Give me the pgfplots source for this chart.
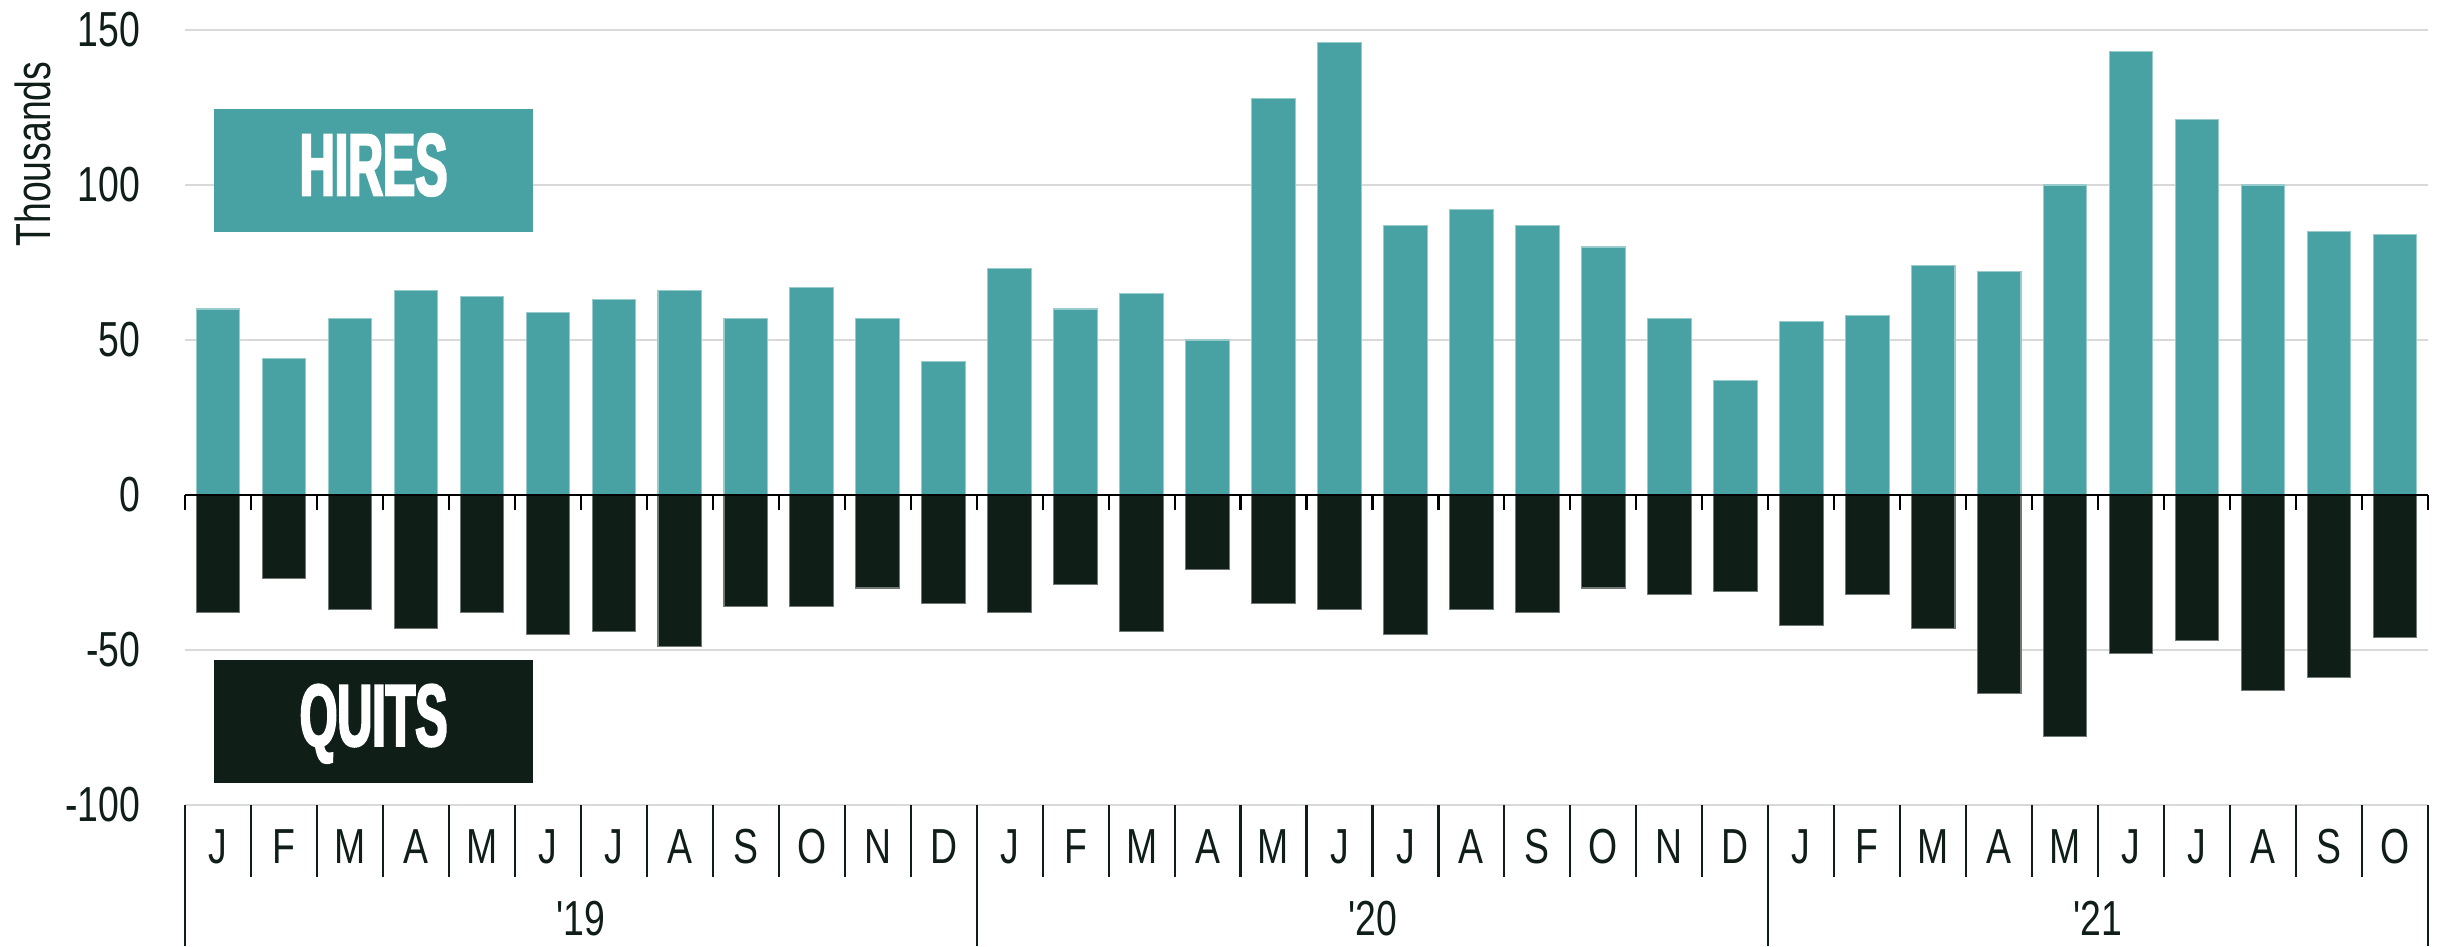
\documentclass[border=0pt]{standalone}
\usepackage{fontspec}
\usepackage{pgfplots}
\pgfplotsset{compat=1.18}
\setmainfont{Liberation Sans}
\newfontfamily\narrowfont{Liberation Sans}[FakeStretch=0.76, Ligatures=TeXOff]
\newfontfamily\boxfont{Liberation Sans}[FakeStretch=0.55, FakeBold=2.5]
\definecolor{hireTeal}{RGB}{72,161,162}
\definecolor{quitDark}{RGB}{16,30,24}
\definecolor{gridGray}{RGB}{217,217,217}
\newcommand{\lblfont}{\narrowfont\fontsize{14}{14}\selectfont}

\begin{document}
\begin{tikzpicture}
\path[use as bounding box] (-18.5mm,-14.1mm) rectangle (225.5mm,80.5mm);
\begin{axis}[
    scale only axis,
    width=224.3mm, height=77.5mm,
    at={(0,0)}, anchor=south west,
    xmin=-0.5, xmax=33.5,
    ymin=-100, ymax=150,
    clip=false,
    axis line style={draw=none},
    major tick length=0pt,
    tick style={draw=none},
    ytick={-100,-50,...,150},
    yticklabels={-100,-50,0,50,100,150},
    ymajorgrids,
    grid style={gridGray, line width=0.7pt},
    yticklabel style={font=\lblfont, text=quitDark, anchor=east, inner sep=0pt, xshift=-4.4mm},
    xtick={0,...,33},
    xticklabels={J,F,M,A,M,J,J,A,S,O,N,D,J,F,M,A,M,J,J,A,S,O,N,D,J,F,M,A,M,J,J,A,S,O},
    xticklabel style={font=\lblfont, text=quitDark, anchor=base, inner sep=0pt, yshift=-5.85mm},
]

% hires (positive)
\addplot[ybar, bar width=0.66, fill=hireTeal, draw=hireTeal!55!white, line width=0.3pt] coordinates {
    (0,60) (1,44) (2,57) (3,66) (4,64) (5,59) (6,63) (7,66) (8,57) (9,67) (10,57) (11,43)
    (12,73) (13,60) (14,65) (15,50) (16,128) (17,146) (18,87) (19,92) (20,87) (21,80) (22,57) (23,37)
    (24,56) (25,58) (26,74) (27,72) (28,100) (29,143) (30,121) (31,100) (32,85) (33,84)
};

% quits (negative)
\addplot[ybar, bar width=0.66, fill=quitDark, draw=quitDark!60!white, line width=0.3pt] coordinates {
    (0,-38) (1,-27) (2,-37) (3,-43) (4,-38) (5,-45) (6,-44) (7,-49) (8,-36) (9,-36) (10,-30) (11,-35)
    (12,-38) (13,-29) (14,-44) (15,-24) (16,-35) (17,-37) (18,-45) (19,-37) (20,-38) (21,-30) (22,-32) (23,-31)
    (24,-42) (25,-32) (26,-43) (27,-64) (28,-78) (29,-51) (30,-47) (31,-63) (32,-59) (33,-46)
};

% zero line with small ticks, month and year separators
\draw[black, line width=0.8pt] (axis cs:-0.5,0) -- (axis cs:33.5,0);
\pgfplotsinvokeforeach{-0.5,0.5,...,33.5}{
    \draw[black, line width=0.6pt] (axis cs:#1,0) -- ([yshift=-1.5mm]axis cs:#1,0);
    \draw[quitDark, line width=0.6pt] (axis cs:#1,-100) -- ([yshift=-7.2mm]axis cs:#1,-100);
}
\pgfplotsinvokeforeach{-0.5,11.5,23.5,33.5}{
    \draw[quitDark, line width=0.6pt] (axis cs:#1,-100) -- ([yshift=-14.1mm]axis cs:#1,-100);
}

% year labels
\node[font=\lblfont, text=quitDark, anchor=base] at ([yshift=-13.05mm]axis cs:5.5,-100) {'19};
\node[font=\lblfont, text=quitDark, anchor=base] at ([yshift=-13.05mm]axis cs:17.5,-100) {'20};
\node[font=\lblfont, text=quitDark, anchor=base] at ([yshift=-13.05mm]axis cs:28.5,-100) {'21};

% series tags
\node[fill=hireTeal, minimum width=31.9mm, minimum height=12.3mm, inner sep=0pt,
      text height=6.3mm, text depth=1.4mm, text=white,
      font=\boxfont\fontsize{25}{25}\selectfont\bfseries] at (axis cs:2.36,104.6) {HIRES};
\node[fill=quitDark, minimum width=31.9mm, minimum height=12.3mm, inner sep=0pt,
      text height=6.3mm, text depth=1.4mm, text=white,
      font=\boxfont\fontsize{25}{25}\selectfont\bfseries] at (axis cs:2.36,-73) {QUITS};
\end{axis}
\node[rotate=90, font=\lblfont, text=quitDark] at (-15.2mm,65.1mm) {Thousands};
\end{tikzpicture}
\end{document}
